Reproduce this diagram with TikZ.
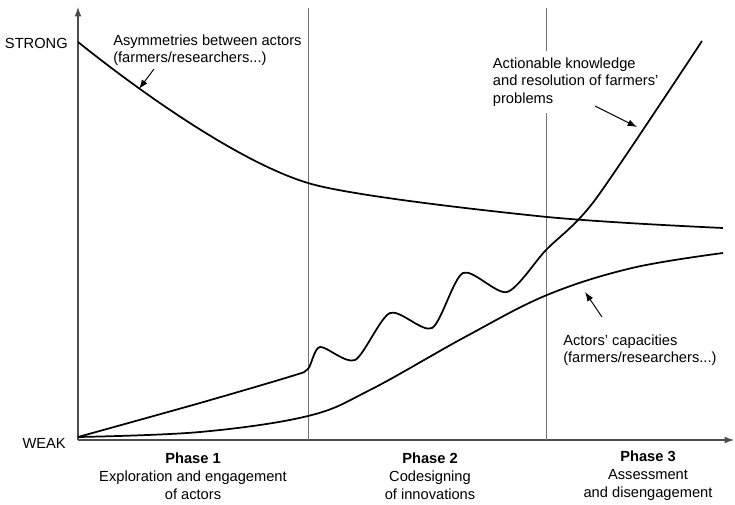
\documentclass[tikz,border=0pt]{standalone}
\usepackage{fontspec}
\setmainfont{Liberation Sans}
\usetikzlibrary{arrows.meta,positioning}
\tikzset{
    axis/.style={draw=black!70,line width=0.8pt,-{Latex[length=7pt,width=5pt]}},
    divider/.style={draw=black!55,line width=0.7pt},
    curve/.style={line width=1.3pt,line join=round},
    pointer/.style={line width=0.7pt,-{Latex[length=7pt,width=5pt]}},
    el/.style={inner sep=0pt,align=left,font=\fontsize{11}{13}\selectfont},
    phase/.style={inner sep=0pt,align=center,font=\fontsize{11}{13.5}\selectfont}
}
\begin{document}
\begin{tikzpicture}[x=0.75pt,y=-0.75pt]
    \useasboundingbox (0,0) rectangle (735,505);
    % axes and phase limits
    \coordinate (o) at (78,440);
    \coordinate (top) at (78,7);
    \coordinate (end) at (734,440);
    \draw[axis] (o) -- (top);
    \draw[axis] (o) -- (end);
    \coordinate (d1t) at (308,8);
    \coordinate (d1b) at (308,440);
    \coordinate (d2t) at (546,8);
    \coordinate (d2b) at (546,440);
    \draw[divider] (d1t) -- (d1b);
    \draw[divider] (d2t) -- (d2b);

    \node[el,anchor=east] (strong) at (68,43) {STRONG};
    \node[el,anchor=east] (weak) at (66,443) {WEAK};

    % labels
    \node[el,anchor=west] (asym) at (113,50) {Asymmetries between actors\\(farmers/researchers...)};
    \node[el,anchor=west,fill=white,inner xsep=2pt,inner ysep=5pt] (know) at (490,82) {Actionable knowledge\\and resolution of farmers'\\problems};
    \node[el,anchor=west] (capa) at (563,350) {Actors' capacities\\(farmers/researchers...)};

    % curves
    \draw[curve] (78,42) .. controls (158,106) and (248,165) .. (308,183)
        .. controls (340,193) and (440,206) .. (547,217)
        .. controls (600,222) and (680,226) .. (723,228);
    \draw[curve] plot[smooth,tension=0.45] coordinates {(78,437) (200,403) (292,376) (308,369) (320,347) (355,360) (390,313) (432,328) (463,273) (507,292) (546,250) (595,200) (702,41)};
    \draw[curve] plot[smooth,tension=0.6] coordinates {(78,437) (200,432) (308,416) (370,390) (465,337) (547,295) (632,268) (723,253)};

    \coordinate (a1) at (154,69);
    \coordinate (a2) at (139,89);
    \coordinate (k1) at (595,106);
    \coordinate (k2) at (637,127);
    \coordinate (c1) at (602,317);
    \coordinate (c2) at (585,292);
    \draw[pointer] (a1) -- (a2);
    \draw[pointer] (k1) -- (k2);
    \draw[pointer] (c1) -- (c2);

    \node[phase] (p1) at (193,476) {\textbf{Phase 1}\\Exploration and engagement\\of actors};
    \node[phase] (p2) at (430,476) {\textbf{Phase 2}\\Codesigning\\of innovations};
    \node[phase] (p3) at (648,476) {\textbf{Phase 3}\\Assessment\\and disengagement};
\end{tikzpicture}
\end{document}
